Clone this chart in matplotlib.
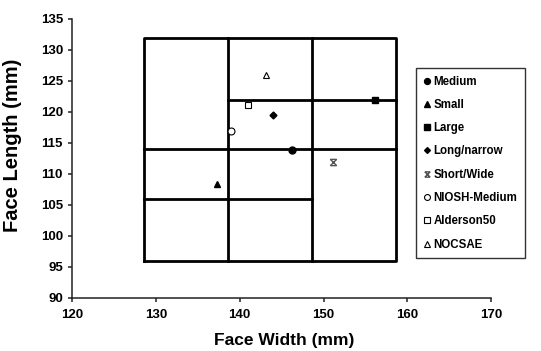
import matplotlib
matplotlib.use("Agg")
import matplotlib.pyplot as plt
from matplotlib.path import Path

plt.rcParams['font.family'] = ['Liberation Sans', 'DejaVu Sans']
plt.rcParams['font.weight'] = 'bold'

# Data
names = ["Medium", "Small", "Large", "Long/narrow", "Short/Wide",
         "NIOSH-Medium", "Alderson50", "NOCSAE"]
face_width = [146.3, 137.3, 156.1, 144.0, 151.1, 139.0, 141.0, 143.1]
face_length = [113.8, 108.4, 121.9, 119.5, 111.9, 116.9, 121.1, 126.0]

# Grid of size categories
box_x = [128.6, 158.6]
box_y = [96, 132]
vlines_x = [138.6, 148.6]
hlines = [(114, 128.6, 158.6), (122, 138.6, 158.6), (106, 128.6, 148.6)]

x_ticks = [120, 130, 140, 150, 160, 170]
y_ticks = [90, 95, 100, 105, 110, 115, 120, 125, 130, 135]

# custom short/wide marker: x with bars
verts = [(-1, 1), (1, -1), (-1, -1), (1, 1), (-1, 1), (1, 1), (-1, -1), (1, -1)]
codes = [Path.MOVETO, Path.LINETO, Path.MOVETO, Path.LINETO,
         Path.MOVETO, Path.LINETO, Path.MOVETO, Path.LINETO]
xbar = Path(verts, codes)

styles = [
    dict(marker='o', color='black', ms=5),
    dict(marker='^', color='black', ms=5),
    dict(marker='s', color='black', ms=5),
    dict(marker='D', color='black', ms=3.5),
    dict(marker=xbar, color='#555555', ms=4.5, mew=1.0),
    dict(marker='o', mfc='white', mec='black', ms=5, mew=0.8),
    dict(marker='s', mfc='white', mec='black', ms=5, mew=0.8),
    dict(marker='^', mfc='white', mec='black', ms=5, mew=0.8),
]

fig = plt.figure(figsize=(5.41, 3.51), dpi=100)
ax = fig.add_axes([0.133, 0.151, 0.775, 0.795])

lw = 2.0
ax.plot([box_x[0], box_x[1], box_x[1], box_x[0], box_x[0]],
        [box_y[0], box_y[0], box_y[1], box_y[1], box_y[0]], color='black', lw=lw, zorder=2)
for vx in vlines_x:
    ax.plot([vx, vx], box_y, color='black', lw=lw, zorder=2)
for y, x0, x1 in hlines:
    ax.plot([x0, x1], [y, y], color='black', lw=lw, zorder=2)

for n, x, y, st in zip(names, face_width, face_length, styles):
    ax.plot([x], [y], linestyle='none', label=n, zorder=3, **st)

ax.set_xlim(120, 170)
ax.set_ylim(90, 135)
ax.set_xticks(x_ticks)
ax.set_yticks(y_ticks)
ax.spines['top'].set_visible(False)
ax.spines['right'].set_visible(False)
for s in ('left', 'bottom'):
    ax.spines[s].set_linewidth(1.1)
    ax.spines[s].set_color('#222222')
ax.tick_params(labelsize=9.5, length=3, width=1.1, direction='out', color='#222222')
ax.tick_params(axis='x', pad=5)
for lab in ax.get_xticklabels() + ax.get_yticklabels():
    lab.set_fontweight('bold')
ax.set_xlabel("Face Width (mm)", fontsize=12.5, fontweight='bold')
ax.set_ylabel("Face Length (mm)", fontsize=14.5, fontweight='bold')
ax.xaxis.set_label_coords(0.506, -0.125)
ax.yaxis.set_label_coords(-0.12, 0.548)

leg = ax.legend(loc='upper left', bbox_to_anchor=(0.821, 0.824), frameon=True,
                fancybox=False, edgecolor='black', handlelength=0.6,
                handletextpad=0.25, labelspacing=0.98, borderpad=0.65,
                markerscale=0.85, borderaxespad=0,
                prop={'weight': 'bold', 'size': 8.3})
leg.get_frame().set_linewidth(1.0)

fig.savefig("out.png", dpi=100)
